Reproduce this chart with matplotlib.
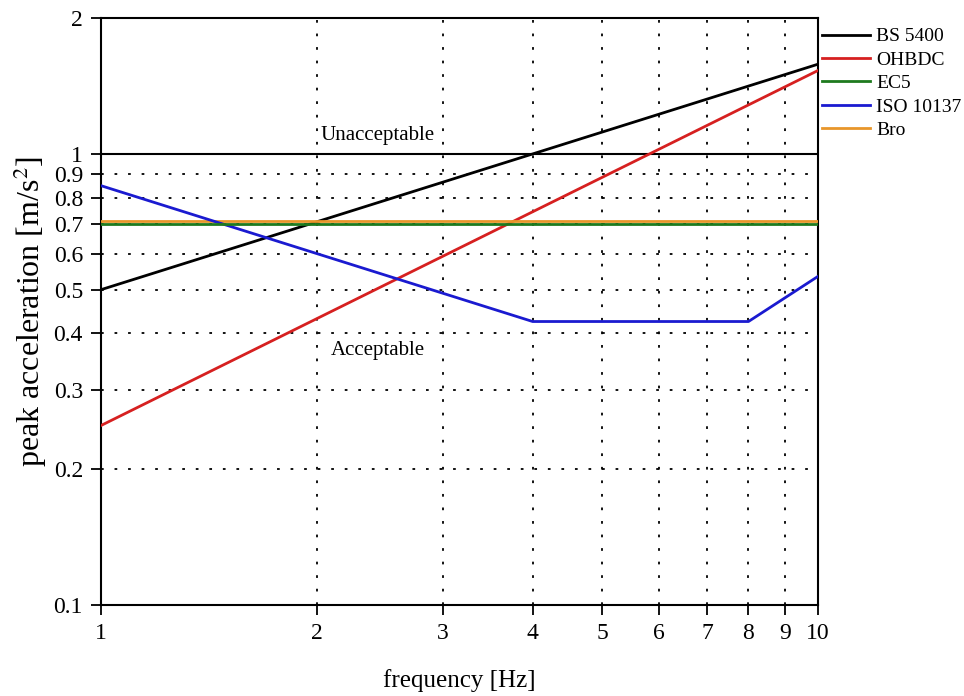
import matplotlib
matplotlib.use('Agg')
from matplotlib import pyplot as plt
from matplotlib.ticker import FixedLocator, NullLocator, FixedFormatter

plt.rcParams['font.family'] = ['Liberation Serif', 'DejaVu Serif']
plt.rcParams['mathtext.fontset'] = 'stix'

# data
freq_bs = [1, 10]
acc_bs = [0.5, 1.58]
freq_ohbdc = [1, 10]
acc_ohbdc = [0.25, 1.53]
freq_ec5 = [1, 10]
acc_ec5 = [0.70, 0.70]
freq_iso = [1, 4, 8, 10]
acc_iso = [0.85, 0.425, 0.425, 0.535]
freq_bro = [1, 10]
acc_bro = [0.71, 0.71]

x_ticks = [1, 2, 3, 4, 5, 6, 7, 8, 9, 10]
y_ticks = [0.1, 0.2, 0.3, 0.4, 0.5, 0.6, 0.7, 0.8, 0.9, 1, 2]
y_labels = ['0.1', '0.2', '0.3', '0.4', '0.5', '0.6', '0.7', '0.8', '0.9', '1', '2']

fig = plt.figure(figsize=(9.64, 6.96), dpi=100)
ax = fig.add_axes([0.1048, 0.1307, 0.7437, 0.8434])

ax.set_xscale('log')
ax.set_yscale('log')
ax.set_xlim(1, 10)
ax.set_ylim(0.1, 2)

# dotted grid
dots = (0, (1.5, 6))
for x in x_ticks[1:-1]:
    ax.axvline(x, color='black', ls=dots, lw=1.3, zorder=1)
for y in y_ticks[1:9]:
    ax.axhline(y, color='black', ls=dots, lw=1.3, zorder=1)
ax.axhline(1, color='black', lw=1.5, zorder=2)

ax.plot(freq_bs, acc_bs, color='black', lw=2, label='BS 5400', zorder=3)
ax.plot(freq_ohbdc, acc_ohbdc, color='#d62020', lw=2, label='OHBDC', zorder=3)
ax.plot(freq_bro, acc_bro, color='#e8962a', lw=2, label='Bro', zorder=3)
ax.plot(freq_ec5, acc_ec5, color='#1e7a1e', lw=2, label='EC5', zorder=4)
ax.plot(freq_iso, acc_iso, color='#1a1ad0', lw=2, label='ISO 10137', zorder=3)

ax.xaxis.set_major_locator(FixedLocator(x_ticks))
ax.xaxis.set_minor_locator(NullLocator())
ax.xaxis.set_major_formatter(FixedFormatter([str(v) for v in x_ticks]))
ax.yaxis.set_major_locator(FixedLocator(y_ticks))
ax.yaxis.set_minor_locator(NullLocator())
ax.yaxis.set_major_formatter(FixedFormatter(y_labels))
ax.tick_params(direction='out', length=7, width=1.3, labelsize=17, pad=6)

for s in ax.spines.values():
    s.set_linewidth(1.5)

ax.text(2.43, 1.10, 'Unacceptable', ha='center', va='center', fontsize=15)
ax.text(2.43, 0.367, 'Acceptable', ha='center', va='center', fontsize=15)

ax.set_xlabel('frequency [Hz]', fontsize=18, labelpad=18)
ax.set_ylabel('peak acceleration [m/s$^2$]', fontsize=23, labelpad=3)

h, l = ax.get_legend_handles_labels()
order = [0, 1, 3, 4, 2]
ax.legend([h[i] for i in order], [l[i] for i in order], loc='upper left',
          bbox_to_anchor=(1.0, 0.99), frameon=False, fontsize=14,
          handlelength=2.5, handletextpad=0.3, labelspacing=0.3,
          borderaxespad=0.0, borderpad=0.2)

fig.savefig('out.png', dpi=100)
